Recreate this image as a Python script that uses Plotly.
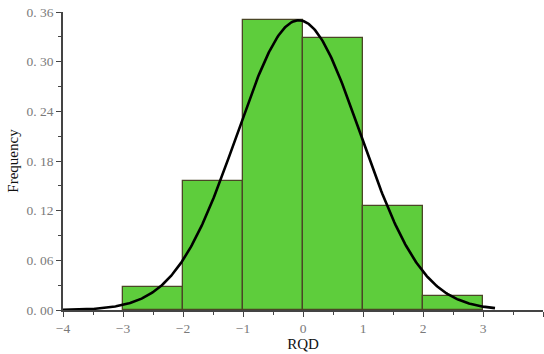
import numpy as np
import plotly.graph_objects as go

# Histogram of RQD (standardised), bins of width 1
bin_left = [-3, -2, -1, 0, 1, 2]
bin_freq = [0.028, 0.156, 0.350, 0.328, 0.126, 0.017]
bin_width = 1.0

# Fitted normal curve parameters
fit_mean = -0.07
fit_sd = 1.03
fit_peak = 0.350
curve_start, curve_end = -4.0, 3.2

y_tickvals = [0.00, 0.06, 0.12, 0.18, 0.24, 0.30, 0.36]
y_ticktext = ["0. 00", "0. 06", "0. 12", "0. 18", "0. 24", "0. 30", "0. 36"]
x_tickvals = [-4, -3, -2, -1, 0, 1, 2, 3, 4]
x_ticktext = ["−4", "−3", "−2", "−1", "0", "1", "2", "3", "4"]

xc = np.linspace(curve_start, curve_end, 400)
yc = fit_peak * np.exp(-((xc - fit_mean) ** 2) / (2 * fit_sd ** 2))

fig = go.Figure()
fig.add_trace(go.Bar(
    x=[l + bin_width / 2 for l in bin_left],
    y=bin_freq,
    width=bin_width,
    marker=dict(color="#5ECD3C", line=dict(color="#4A4626", width=1.3)),
    showlegend=False,
))
fig.add_trace(go.Scatter(
    x=xc, y=yc, mode="lines",
    line=dict(color="black", width=2.6),
    showlegend=False,
))

tick_font = dict(family="Liberation Serif, DejaVu Serif, serif", size=13.5, color="#7A7A7A")
title_font = dict(family="Liberation Serif, DejaVu Serif, serif", size=15, color="#111111")

fig.update_layout(
    width=544, height=354,
    margin=dict(l=63, r=1, t=12, b=44),
    paper_bgcolor="white", plot_bgcolor="white",
    bargap=0,
)
fig.update_xaxes(
    range=[-4, 4], tickvals=x_tickvals, ticktext=x_ticktext,
    showgrid=False, zeroline=False,
    showline=True, linecolor="#444444", linewidth=1.5,
    ticks="outside", ticklen=5, tickcolor="#444444", tickwidth=1.2,
    minor=dict(dtick=0.5, ticks="outside", ticklen=3, tickcolor="#444444", showgrid=False),
    tickfont=tick_font,
    title=dict(text="RQD", font=title_font, standoff=3),
)
fig.update_yaxes(
    range=[0, 0.36], tickvals=y_tickvals, ticktext=y_ticktext,
    showgrid=False, zeroline=False,
    showline=True, linecolor="#444444", linewidth=1.5,
    ticks="outside", ticklen=5, tickcolor="#444444", tickwidth=1.2,
    minor=dict(dtick=0.03, tick0=0, ticks="outside", ticklen=3, tickcolor="#444444", showgrid=False),
    tickfont=tick_font,
    title=dict(text="Frequency", font=title_font, standoff=4),
)

fig.write_html("out.html")
